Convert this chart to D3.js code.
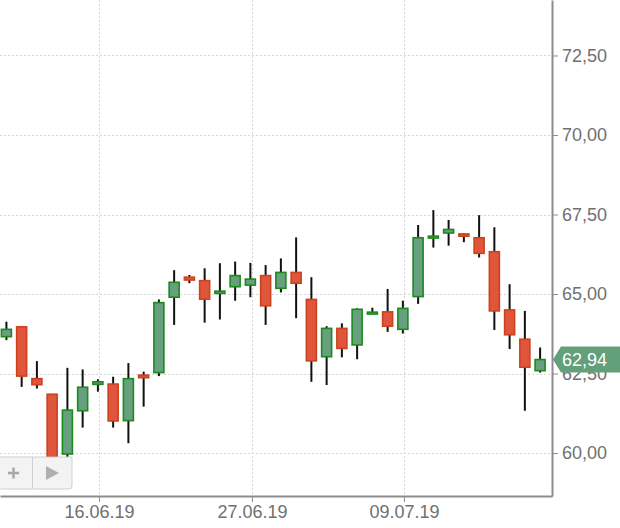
<!DOCTYPE html>
<html>
<head>
<meta charset="utf-8">
<script src="https://cdn.jsdelivr.net/npm/d3@7"></script>
<style>
  body { margin: 0; background: #fff; }
  svg { display: block; font-family: "Liberation Sans", Arial, sans-serif; }
  .grid line { stroke: #d6d6d6; stroke-dasharray: 2,2; }
  .axis path, .axis line { stroke: #8c8c8c; }
  .axis text { fill: #707070; font-size: 18px; }
  .wick { stroke: #111; stroke-width: 2; }
  .up { fill: #66a07e; stroke: #1c8a1c; stroke-width: 1.6; }
  .down { fill: #e0553b; stroke: #c9441c; stroke-width: 1.6; }
</style>
</head>
<body>
<div id="chart"></div>
<script>
// daily candles, oldest first
var open  = [63.66, 63.97, 62.34, 61.85, 59.97, 61.33, 62.16, 62.17, 61.02, 62.45,
             62.53, 64.90, 65.53, 65.42, 65.02, 65.23, 65.28, 65.58, 65.18, 65.68,
             64.83, 63.03, 63.92, 63.40, 64.37, 64.44, 63.89, 64.92, 66.76, 66.92,
             66.89, 66.77, 66.33, 64.50, 63.58, 62.59];
var high  = [64.13, 63.99, 62.89, 61.86, 62.68, 62.63, 62.32, 62.40, 62.83, 62.56,
             64.83, 65.75, 65.60, 65.81, 65.97, 66.02, 65.98, 65.91, 66.12, 66.78,
             65.53, 63.99, 64.08, 64.55, 64.57, 65.16, 64.79, 67.17, 67.64, 67.33,
             66.90, 67.48, 67.10, 65.31, 64.47, 63.32];
var low   = [63.55, 62.08, 62.03, 59.60, 59.83, 60.80, 61.93, 60.80, 60.31, 61.46,
             62.42, 64.03, 65.34, 64.10, 64.20, 64.79, 64.90, 64.03, 65.05, 64.24,
             62.24, 62.14, 63.01, 62.95, 64.36, 63.81, 63.76, 64.69, 66.46, 66.52,
             66.63, 66.15, 63.87, 63.27, 61.33, 62.53];
var close = [63.89, 62.42, 62.15, 59.88, 61.35, 62.07, 62.24, 61.01, 62.34, 62.37,
             64.73, 65.37, 65.44, 64.84, 65.09, 65.58, 65.47, 64.63, 65.68, 65.34,
             62.90, 63.92, 63.29, 64.52, 64.43, 63.99, 64.55, 66.77, 66.82, 67.03,
             66.82, 66.28, 64.47, 63.72, 62.70, 62.94];

var dateTicks = [6.07, 16.1, 26.07];
var dateLabels = ["16.06.19", "27.06.19", "09.07.19"];
var priceTicks = [60, 62.5, 65, 67.5, 70, 72.5];

var data = open.map(function (o, i) {
  return { i: i, open: o, high: high[i], low: low[i], close: close[i] };
});

var width = 620, height = 528,
  plotW = 552, plotH = 496;

var x = d3.scaleLinear()
  .domain([-0.42, 35.78])
  .range([0, plotW]);

var y = d3.scaleLinear()
  .domain([58.65, 74.245])
  .range([plotH, 0]);

var fmt = function (v) { return d3.format(".2f")(v).replace(".", ","); };

var svg = d3.select("#chart").append("svg")
  .attr("width", width)
  .attr("height", height);

// grid
var grid = svg.append("g").attr("class", "grid");
grid.selectAll(".h")
  .data(priceTicks)
  .enter().append("line")
  .attr("x1", 0).attr("x2", plotW)
  .attr("y1", function (d) { return Math.round(y(d)) + 0.5; })
  .attr("y2", function (d) { return Math.round(y(d)) + 0.5; });
grid.selectAll(".v")
  .data(dateTicks)
  .enter().append("line")
  .attr("y1", 0).attr("y2", plotH)
  .attr("x1", function (d) { return Math.round(x(d)) + 0.5; })
  .attr("x2", function (d) { return Math.round(x(d)) + 0.5; });

// candles
var candle = svg.append("g").selectAll(".candle")
  .data(data)
  .enter().append("g")
  .attr("class", "candle");

candle.append("line")
  .attr("class", "wick")
  .attr("x1", function (d) { return x(d.i); })
  .attr("x2", function (d) { return x(d.i); })
  .attr("y1", function (d) { return y(d.high); })
  .attr("y2", function (d) { return y(d.low); });

candle.append("rect")
  .attr("class", function (d) { return d.close >= d.open ? "up" : "down"; })
  .attr("x", function (d) { return x(d.i) - 5; })
  .attr("width", 10)
  .attr("y", function (d) { return y(Math.max(d.open, d.close)); })
  .attr("height", function (d) {
    return Math.max(1.5, Math.abs(y(d.open) - y(d.close)));
  });

// axes
svg.append("g")
  .attr("class", "axis axis--y")
  .attr("transform", "translate(" + plotW + ",0)")
  .call(d3.axisRight(y).tickValues(priceTicks).tickFormat(fmt).tickSize(6).tickPadding(4).tickSizeOuter(0))
  .call(function (g) { g.select(".domain").attr("stroke-width", 2); });

svg.append("g")
  .attr("class", "axis axis--x")
  .attr("transform", "translate(0," + plotH + ")")
  .call(d3.axisBottom(x).tickValues(dateTicks)
    .tickFormat(function (d, i) { return dateLabels[i]; })
    .tickSize(6).tickPadding(3).tickSizeOuter(0))
  .call(function (g) { g.select(".domain").attr("stroke-width", 2); });

// last price marker
var last = data[data.length - 1], ly = y(last.close);
svg.append("path")
  .attr("d", "M" + (plotW + 1) + "," + ly + "L" + (plotW + 9) + "," + (ly - 13) +
    "L" + width + "," + (ly - 13) + "L" + width + "," + (ly + 13) +
    "L" + (plotW + 9) + "," + (ly + 13) + "Z")
  .attr("fill", "#62a07c");
svg.append("text")
  .attr("x", plotW + 10)
  .attr("y", ly)
  .attr("dy", "0.36em")
  .attr("fill", "#fff")
  .style("font-size", "18px")
  .text(fmt(last.close));

// navigation buttons, bottom left
var nav = svg.append("g").attr("transform", "translate(0,457)");
nav.append("path")
  .attr("d", "M-2,0H72V29Q72,32 69,32H-2Z")
  .attr("fill", "#f3f3f3")
  .attr("stroke", "#cfcfcf");
nav.append("line")
  .attr("x1", 32.5).attr("x2", 32.5).attr("y1", 0).attr("y2", 32)
  .attr("stroke", "#cfcfcf");
nav.append("path")
  .attr("d", "M8,16H19M13.5,10.5V21.5")
  .attr("stroke", "#a8a8a8").attr("stroke-width", 2.5);
nav.append("path")
  .attr("d", "M46,9L59,16L46,23Z")
  .attr("fill", "#b0b0b0");
</script>
</body>
</html>
